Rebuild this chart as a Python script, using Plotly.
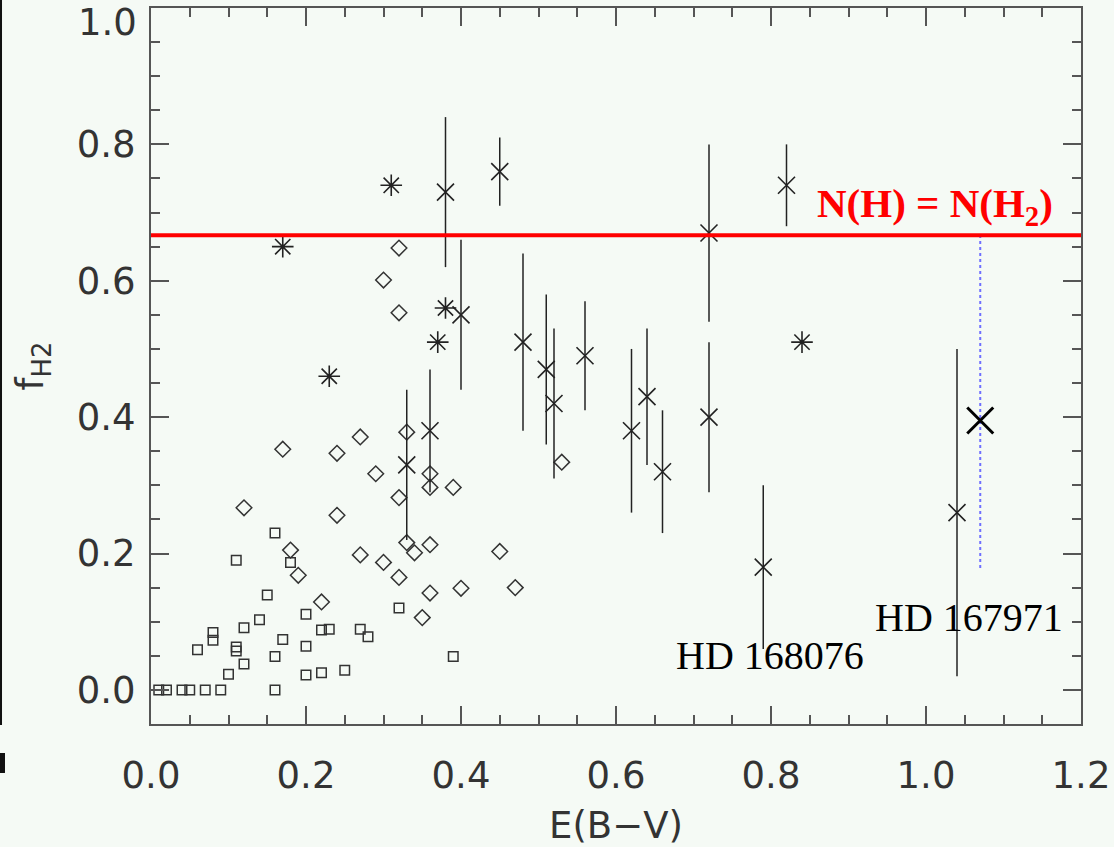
import plotly.graph_objects as go

# ---------------- data ----------------
# open squares
sq_x = [0.01, 0.02, 0.04, 0.05, 0.07, 0.09, 0.16,
        0.06, 0.08, 0.08, 0.10, 0.11, 0.11, 0.11, 0.12, 0.12, 0.14, 0.15,
        0.16, 0.16, 0.17, 0.18, 0.20, 0.20, 0.20, 0.22, 0.23, 0.22, 0.25,
        0.27, 0.28, 0.32, 0.39]
sq_y = [0.0, 0.0, 0.0, 0.0, 0.0, 0.0, 0.0,
        0.059, 0.084, 0.073, 0.023, 0.190, 0.063, 0.057, 0.091, 0.038, 0.103, 0.139,
        0.230, 0.049, 0.074, 0.187, 0.111, 0.064, 0.022, 0.088, 0.089, 0.025, 0.029,
        0.089, 0.078, 0.120, 0.049]

# open diamonds
dm_x = [0.17, 0.24, 0.27, 0.29, 0.32, 0.12, 0.24, 0.18, 0.19, 0.22, 0.27, 0.30,
        0.32, 0.33, 0.36, 0.36, 0.39, 0.33, 0.34, 0.36, 0.36, 0.40, 0.45, 0.47,
        0.53, 0.35, 0.32, 0.30, 0.32]
dm_y = [0.353, 0.347, 0.371, 0.317, 0.282, 0.267, 0.256, 0.205, 0.168, 0.129, 0.198, 0.187,
        0.165, 0.378, 0.317, 0.297, 0.297, 0.216, 0.201, 0.213, 0.142, 0.149, 0.203, 0.150,
        0.334, 0.106, 0.648, 0.601, 0.553]

# asterisks
as_x = [0.17, 0.31, 0.23, 0.38, 0.37, 0.84]
as_y = [0.65, 0.74, 0.46, 0.56, 0.51, 0.51]

# crosses with vertical error bars
cx_x = [0.38, 0.45, 0.40, 0.48, 0.51, 0.52, 0.56, 0.62, 0.64, 0.66,
        0.72, 0.72, 0.79, 0.82, 1.04, 0.36, 0.33]
cx_y = [0.73, 0.76, 0.55, 0.51, 0.47, 0.42, 0.49, 0.38, 0.43, 0.32,
        0.67, 0.40, 0.18, 0.74, 0.26, 0.38, 0.33]
cx_lo = [0.62, 0.71, 0.44, 0.38, 0.36, 0.31, 0.41, 0.26, 0.33, 0.23,
         0.54, 0.29, 0.06, 0.68, 0.02, 0.29, 0.22]
cx_hi = [0.84, 0.81, 0.66, 0.64, 0.58, 0.53, 0.57, 0.50, 0.53, 0.41,
         0.80, 0.51, 0.30, 0.80, 0.50, 0.47, 0.44]

# HD 167971 (big cross) and its dotted connector
big_x = [1.07]
big_y = [0.395]
dot_x = [1.07, 1.07]
dot_y = [0.667, 0.178]

# N(H) = N(H2) level
f_equal = 2.0 / 3.0

# labels
lab_text = ["HD 168076", "HD 167971"]
lab_x = [0.799, 1.055]
lab_y = [0.050, 0.106]

x_ticks = [0.0, 0.2, 0.4, 0.6, 0.8, 1.0, 1.2]
y_ticks = [0.0, 0.2, 0.4, 0.6, 0.8, 1.0]
y_ticktext = ["0.0", "0.2", "0.4", "0.6", "0.8", ""]

# ---------------- figure ----------------
BG = "#f5faf5"
INK = "#222222"
AX = "#555555"
TICKFONT = dict(family="DejaVu Sans", size=37, color="#333333")

fig = go.Figure()

fig.add_trace(go.Scatter(
    x=sq_x, y=sq_y, mode="markers",
    marker=dict(symbol="square-open", size=9.5, color="#333333", line=dict(width=1.5)),
    showlegend=False, hoverinfo="skip"))

fig.add_trace(go.Scatter(
    x=dm_x, y=dm_y, mode="markers",
    marker=dict(symbol="diamond-open", size=12, color="#333333", line=dict(width=1.5)),
    showlegend=False, hoverinfo="skip"))

fig.add_trace(go.Scatter(
    x=as_x, y=as_y, mode="markers",
    marker=dict(symbol="asterisk-open", size=18, color=INK, line=dict(width=1.6)),
    showlegend=False, hoverinfo="skip"))

fig.add_trace(go.Scatter(
    x=cx_x, y=cx_y, mode="markers",
    marker=dict(symbol="x-thin-open", size=17, color=INK, line=dict(width=1.6)),
    error_y=dict(type="data", symmetric=False,
                 array=[h - y for h, y in zip(cx_hi, cx_y)],
                 arrayminus=[y - l for y, l in zip(cx_y, cx_lo)],
                 width=0, thickness=1.5, color=INK),
    showlegend=False, hoverinfo="skip"))

fig.add_trace(go.Scatter(
    x=dot_x, y=dot_y, mode="lines",
    line=dict(color="#6f6fff", width=2, dash="dot"),
    showlegend=False, hoverinfo="skip"))

fig.add_trace(go.Scatter(
    x=big_x, y=big_y, mode="markers",
    marker=dict(symbol="x-thin-open", size=26, color="#000000", line=dict(width=3)),
    showlegend=False, hoverinfo="skip"))

# red horizontal line
fig.add_shape(type="line", xref="paper", x0=0, x1=1, yref="y", y0=f_equal, y1=f_equal,
              line=dict(color="#ff0000", width=4))

# labels
for t, lx, ly in zip(lab_text, lab_x, lab_y):
    fig.add_annotation(x=lx, y=ly, text=t, showarrow=False, xanchor="center", yanchor="middle",
                       font=dict(family="Liberation Serif", size=40, color="#000000"))

fig.add_annotation(x=1.012, y=0.71, text="<b>N(H) = N(H<sub>2</sub>)</b>", showarrow=False,
                   xanchor="center", yanchor="middle",
                   font=dict(family="Liberation Serif", size=41, color="#ff0000"))

# top y label (drawn slightly lower, as in the original)
fig.add_annotation(xref="paper", yref="paper", x=-0.0172, y=0.9804, text="1.0",
                   showarrow=False, xanchor="right", yanchor="middle", xshift=4,
                   font=TICKFONT)

# left-edge artifacts from a neighbouring panel
fig.add_shape(type="rect", xref="paper", yref="paper", x0=-0.1624, x1=-0.1602,
              y0=-0.0014, y1=1.02, fillcolor="#111111", line=dict(width=0))
fig.add_shape(type="rect", xref="paper", yref="paper", x0=-0.1624, x1=-0.1570,
              y0=-0.0684, y1=-0.0405, fillcolor="#111111", line=dict(width=0))

axis_common = dict(
    automargin=False,
    showgrid=False, zeroline=False, showline=True, linecolor=AX, linewidth=2,
    mirror="allticks", ticks="inside", ticklen=18, tickwidth=2, tickcolor=AX,
    tickfont=TICKFONT,
    minor=dict(ticks="inside", ticklen=9, tickwidth=2, tickcolor=AX, dtick=0.05, tick0=0),
)

fig.update_layout(
    width=1114, height=847,
    margin=dict(l=151, r=33, t=8, b=123),
    paper_bgcolor=BG, plot_bgcolor=BG,
    xaxis=dict(range=[0, 1.2], tickmode="array", tickvals=x_ticks,
               ticktext=[f"{v:.1f}" for v in x_ticks], ticklabelstandoff=18,
               title=dict(text="E(B\u2212V)", standoff=20,
                          font=dict(family="DejaVu Sans", size=37, color="#333333")),
               **axis_common),
    yaxis=dict(range=[-0.05, 1.0], tickmode="array", tickvals=y_ticks, ticktext=y_ticktext,
               ticklabelstandoff=6,
               title=dict(text="f<sub>H2</sub>", standoff=22,
                          font=dict(family="DejaVu Sans", size=37, color="#333333")),
               **axis_common),
)

fig.write_html("out.html")
